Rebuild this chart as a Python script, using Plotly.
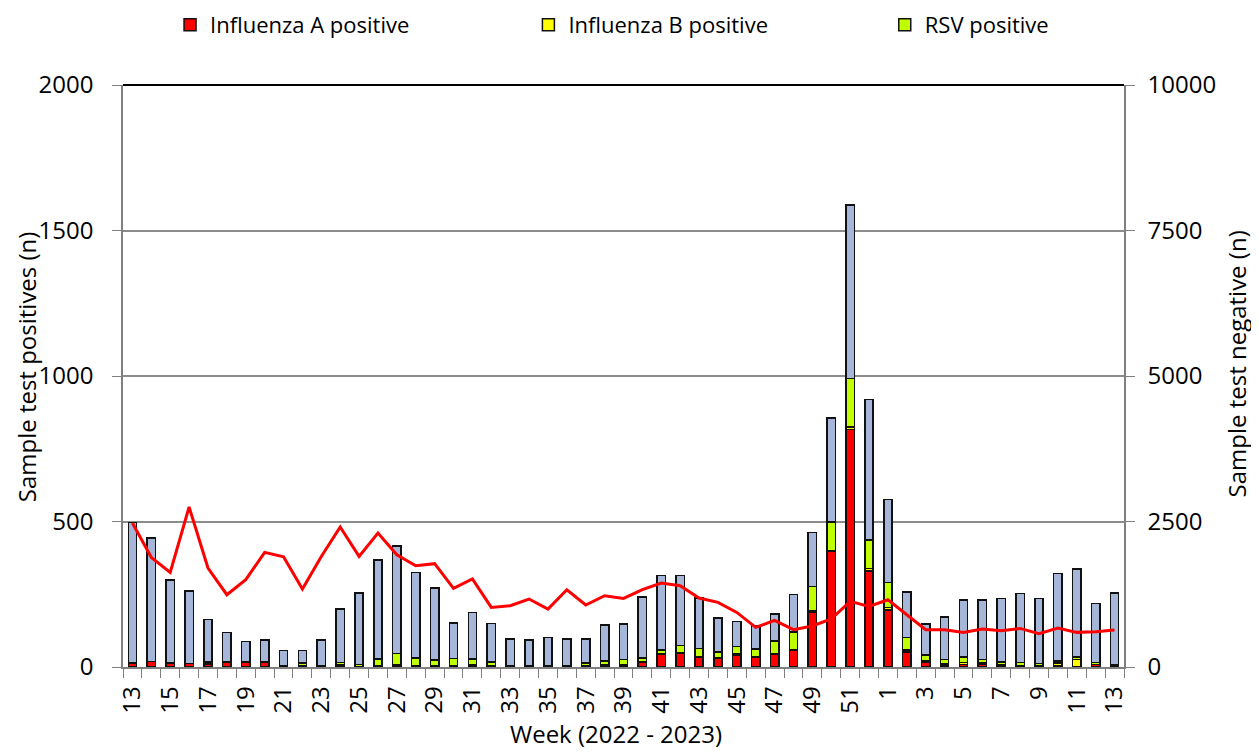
import plotly.graph_objects as go

weeks = [13, 14, 15, 16, 17, 18, 19, 20, 21, 22, 23, 24, 25, 26, 27, 28, 29, 30, 31, 32,
         33, 34, 35, 36, 37, 38, 39, 40, 41, 42, 43, 44, 45, 46, 47, 48, 49, 50, 51, 52,
         1, 2, 3, 4, 5, 6, 7, 8, 9, 10, 11, 12, 13]
years = [2022] * 40 + [2023] * 13

flu_a = [14, 19, 13, 12, 10, 17, 17, 15, 6, 5, 2, 5, 1, 2, 6, 5, 5, 4, 6, 2,
         3, 1, 1, 1, 5, 6, 7, 18, 43, 48, 34, 31, 42, 32, 43, 59, 189, 397, 816, 330,
         196, 52, 17, 7, 8, 8, 5, 2, 3, 6, 1, 8, 3]
flu_b = [0, 0, 0, 0, 4, 0, 0, 0, 0, 0, 0, 3, 1, 2, 2, 1, 1, 1, 1, 1,
         0, 0, 0, 0, 0, 2, 1, 1, 2, 2, 2, 2, 2, 2, 2, 2, 3, 3, 8, 9,
         9, 7, 3, 4, 8, 6, 3, 2, 1, 8, 24, 1, 1]
rsv = [0, 0, 0, 0, 4, 0, 0, 3, 0, 8, 2, 8, 6, 24, 38, 25, 18, 25, 20, 14,
       2, 2, 4, 2, 8, 13, 17, 12, 14, 24, 28, 19, 27, 28, 45, 59, 84, 99, 168, 97,
       85, 42, 22, 14, 19, 11, 10, 12, 8, 7, 9, 6, 4]
other = [482, 425, 286, 249, 146, 101, 71, 74, 50, 43, 88, 184, 247, 339, 369, 293, 248, 122, 161, 133,
         92, 89, 96, 94, 84, 123, 123, 210, 255, 240, 173, 116, 85, 80, 92, 130, 187, 357, 596, 484,
         286, 157, 106, 147, 196, 206, 217, 237, 223, 301, 302, 203, 247]
negatives = [2474, 1883, 1625, 2749, 1701, 1242, 1500, 1969, 1895, 1340, 1900, 2405, 1900, 2302, 1929, 1740, 1775, 1350, 1515, 1024,
             1053, 1168, 996, 1328, 1065, 1225, 1179, 1328, 1443, 1397, 1185, 1110, 938, 680, 800, 641, 705, 825, 1127, 1041,
             1156, 898, 641, 641, 595, 653, 624, 663, 572, 670, 595, 606, 636]

x_title = "Week (2022 - 2023)"
y_title = "Sample test positives (n)"
y2_title = "Sample test negative (n)"

cats = [f"{w}/{y}" for w, y in zip(weeks, years)]
tick_text = [str(w) if i % 2 == 0 else "" for i, w in enumerate(weeks)]

FONT = "Open Sans"
FS = 24
LFS = 22
outline = dict(color="#111111", width=1.5)

fig = go.Figure()
fig.add_trace(go.Bar(x=cats, y=flu_a, name="Influenza A positive", legend="legend",
                     marker=dict(color="#FF0000", line=outline)))
fig.add_trace(go.Bar(x=cats, y=flu_b, name="Influenza B positive", legend="legend2",
                     marker=dict(color="#FFFF00", line=outline)))
fig.add_trace(go.Bar(x=cats, y=rsv, name="RSV positive", legend="legend3",
                     marker=dict(color="#C0FF00", line=outline)))
fig.add_trace(go.Bar(x=cats, y=other, name="Other", showlegend=False,
                     marker=dict(color="#A6B6D8", line=outline)))
fig.add_trace(go.Scatter(x=cats, y=negatives, name="Sample test negative", yaxis="y2",
                         mode="lines", showlegend=False,
                         line=dict(color="#FF0000", width=3)))

def leg(xpos):
    return dict(orientation="h", x=xpos, xanchor="left", y=1.103, yanchor="middle",
                font=dict(size=LFS), bgcolor="rgba(0,0,0,0)")

axis_common = dict(ticks="outside", ticklen=9, tickcolor="#808080", showline=True,
                   linecolor="#808080", linewidth=1.5, zeroline=False,
                   tickfont=dict(size=FS))

title_font = dict(family=FONT, size=FS, color="#000000")

fig.update_layout(
    width=1251, height=745,
    margin=dict(l=115, r=135, t=77, b=86, autoexpand=False),
    paper_bgcolor="white", plot_bgcolor="white",
    barmode="stack", bargap=0.56,
    font=dict(family=FONT, size=FS, color="#000000"),
    legend=leg(0.047), legend2=leg(0.405), legend3=leg(0.761),
    xaxis=dict(type="category", categoryorder="array", categoryarray=cats,
               tickmode="array", tickvals=cats, ticktext=tick_text,
               tickangle=-90, tickson="boundaries", showgrid=False,
               ticklabelstandoff=8, **axis_common),
    yaxis=dict(range=[0, 2000], dtick=500, showgrid=True, gridcolor="#8C8C8C", gridwidth=2,
               ticklabelstandoff=14, **axis_common),
    yaxis2=dict(range=[0, 10000], dtick=2500, overlaying="y", side="right", showgrid=False,
                tickformat="d", ticklabelstandoff=8, **axis_common),
    shapes=[dict(type="line", xref="paper", yref="paper", x0=0, x1=1, y0=1, y1=1,
                 line=dict(color="#000000", width=2))],
    annotations=[
        dict(text=x_title, xref="paper", yref="paper", x=0.4925, y=-0.1145,
             xanchor="center", yanchor="middle", showarrow=False, font=title_font),
        dict(text=y_title, xref="paper", yref="paper", x=-0.0969, y=0.515, textangle=-90,
             xanchor="center", yanchor="middle", showarrow=False, font=title_font),
        dict(text=y2_title, xref="paper", yref="paper", x=1.112, y=0.52, textangle=-90,
             xanchor="center", yanchor="middle", showarrow=False, font=title_font),
    ],
)

fig.write_html("out.html")
